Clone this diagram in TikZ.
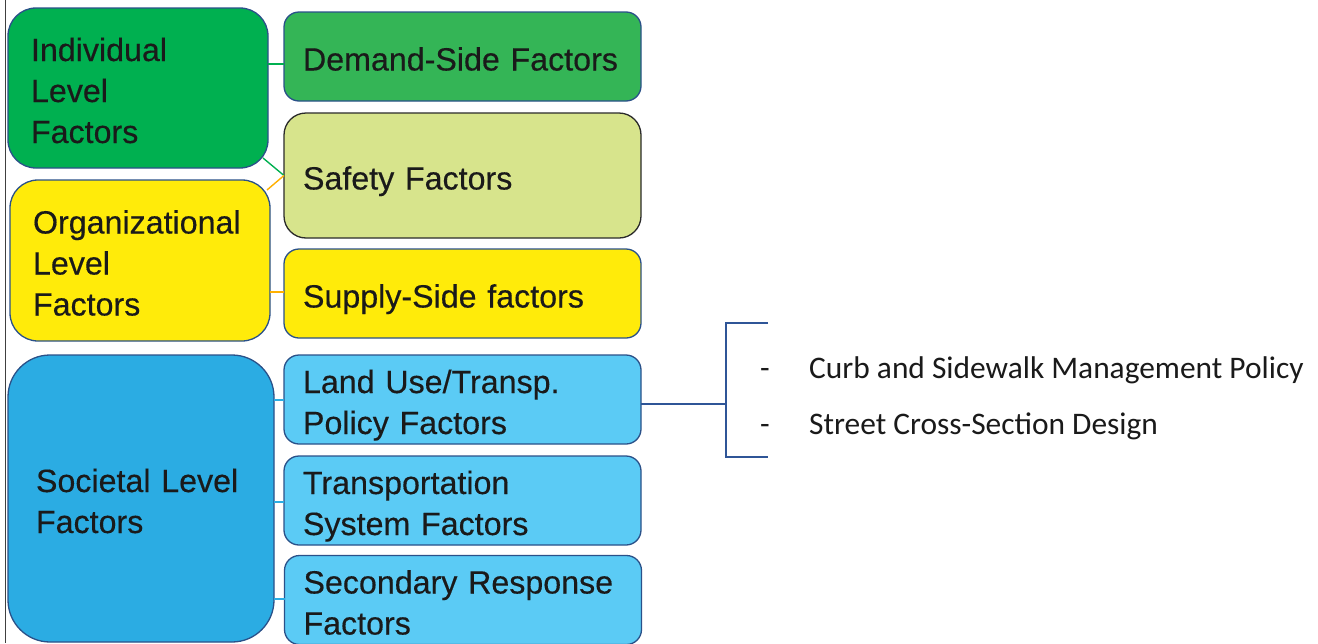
\documentclass[tikz,border=0pt]{standalone}
\usepackage{fontspec}
\setmainfont{Liberation Sans}[FakeBold=0.35]
\newfontfamily\listfont{Carlito}
\usetikzlibrary{calc}
\definecolor{bordc}{HTML}{2A5189}
\definecolor{indc}{HTML}{00B050}
\definecolor{demc}{HTML}{34B556}
\definecolor{safc}{HTML}{D7E48C}
\definecolor{safb}{HTML}{2B2B2B}
\definecolor{yelc}{HTML}{FFEB0A}
\definecolor{socc}{HTML}{2BACE3}
\definecolor{ltbc}{HTML}{5BCBF5}
\definecolor{orc}{HTML}{FFB000}
\definecolor{brkc}{HTML}{2F5597}
\definecolor{txtc}{HTML}{1A1A1A}
\newcommand\topst{\rule{0pt}{36pt}}
\newcommand\botst{\rule[-8pt]{0pt}{8pt}}
\tikzset{
  boxbase/.style={draw=bordc, line width=1.3pt, align=left, text=txtc,
    font=\fontsize{32.2}{41}\selectfont, inner ysep=0pt, outer sep=0pt},
  lbox/.style={boxbase, rounded corners=28pt, inner xsep=23pt},
  rbox/.style={boxbase, rounded corners=15pt, inner xsep=19pt,
    minimum width=357pt, text width=319pt},
  conn/.style={line width=1.4pt},
  brk/.style={draw=brkc, line width=1.4pt},
  listtxt/.style={font=\listfont\fontsize{31.4}{38}\selectfont, text=txtc,
    inner sep=0pt, anchor=base west}
}
\begin{document}
\begin{tikzpicture}[x=1pt,y=-1pt]
\useasboundingbox (0,0) rectangle (1318,643);
\fill[white] (0,0) rectangle (1318,643);
\draw[color=black!75, line width=1pt] (5,0) -- (5,643);
% left boxes
\node[lbox, fill=indc, minimum width=260pt, minimum height=160pt, text width=214pt] (ind) at (138,88) {\topst Individual\\Level\\Factors\botst};
\node[lbox, fill=yelc, minimum width=260pt, minimum height=161pt, text width=214pt] (org) at (140,260.5) {\topst Organizational\\Level\\Factors\botst};
\node[lbox, fill=socc, rounded corners=42pt, inner xsep=28pt, minimum width=266pt, minimum height=287pt, text width=210pt] (soc) at (141,498.5) {\topst Societal Level\\Factors\botst};
% right boxes
\node[rbox, fill=demc, minimum height=89pt] (dem) at (462.5,56.5) {\topst Demand-Side Factors\botst};
\node[rbox, fill=safc, draw=safb, rounded corners=22pt, minimum height=125pt] (saf) at (462.5,175.5) {\topst Safety Factors\botst};
\node[rbox, fill=yelc, minimum height=89pt] (sup) at (462.5,293.5) {\topst Supply-Side factors\botst};
\node[rbox, fill=ltbc, minimum height=89pt] (land) at (462.5,399.5) {\topst Land Use/Transp.\\Policy Factors\botst};
\node[rbox, fill=ltbc, minimum height=89pt] (trans) at (462.5,500.5) {\topst Transportation\\System Factors\botst};
\node[rbox, fill=ltbc, minimum height=89pt] (sec) at (463,600) {\topst Secondary Response\\Factors\botst};
% connectors
\coordinate (c1) at (0,64);
\draw[conn, draw=indc] (ind.east |- c1) -- (dem.west |- c1);
\draw[conn, draw=indc] (263,158) -- (saf.west);
\draw[conn, draw=orc] (267,190) -- (saf.west);
\coordinate (c2) at (0,292);
\draw[conn, draw=orc] (org.east |- c2) -- (sup.west |- c2);
\coordinate (c3) at (0,400);
\coordinate (c4) at (0,502);
\coordinate (c5) at (0,599);
\draw[conn, draw=socc] (soc.east |- c3) -- (land.west |- c3);
\draw[conn, draw=socc] (soc.east |- c4) -- (trans.west |- c4);
\draw[conn, draw=socc] (soc.east |- c5) -- (sec.west |- c5);
% bracket
\coordinate (bk) at (726,404);
\coordinate (bt) at (768,323);
\coordinate (bb) at (768,457);
\draw[brk] (land.east |- bk) -- (bk);
\draw[brk] (bt) -- (bt -| bk) -- (bb -| bk) -- (bb);
% list
\node[listtxt] (d1) at (760,378) {-};
\node[listtxt] (t1) at (809,378) {Curb and Sidewalk Management Policy};
\node[listtxt] (d2) at (760,434) {-};
\node[listtxt] (t2) at (809,434) {Street Cross-Section Design};
\end{tikzpicture}
\end{document}
